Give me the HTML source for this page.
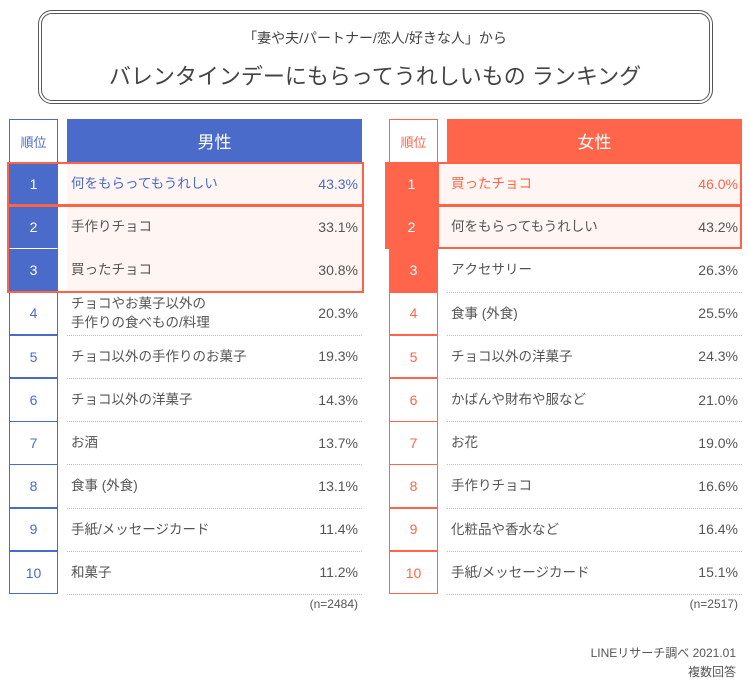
<!DOCTYPE html>
<html><head><meta charset="utf-8">
<style>
body{margin:0;width:750px;height:683px;background:#fff;position:relative;overflow:hidden;font-family:"Liberation Sans","Noto Sans CJK JP",sans-serif;color:#555;}
.a{position:absolute;box-sizing:border-box;}
#title-box{left:38px;top:10px;width:675px;height:94px;border:4px double #555;border-radius:14px;}
.t1{left:0;width:750px;top:28px;text-align:center;font-size:14px;color:#444;}
.t2{left:0;width:750px;top:59px;text-align:center;font-size:22px;color:#444;}
.rk{display:flex;align-items:center;justify-content:center;font-size:14px;}
.lab{font-size:13.5px;display:flex;align-items:center;line-height:19px;}
.val{font-size:14px;text-align:right;display:flex;align-items:center;justify-content:flex-end;}
.sep{height:0;border-top:1px dotted #bbb;}
</style></head><body>
<div class="a" id="title-box"></div>
<div class="a t1">「妻や夫/パートナー/恋人/好きな人」から</div>
<div class="a t2">バレンタインデーにもらってうれしいもの ランキング</div>
<div class="a" style="right:14px;top:644px;font-size:12px;text-align:right;line-height:19px;">LINEリサーチ調べ 2021.01<br>複数回答</div>
<script>
const maleItems=["何をもらってもうれしい","手作りチョコ","買ったチョコ","チョコやお菓子以外の<br>手作りの食べもの/料理","チョコ以外の手作りのお菓子","チョコ以外の洋菓子","お酒","食事 (外食)","手紙/メッセージカード","和菓子"];
const maleValues=[43.3,33.1,30.8,20.3,19.3,14.3,13.7,13.1,11.4,11.2];
const femaleItems=["買ったチョコ","何をもらってもうれしい","アクセサリー","食事 (外食)","チョコ以外の洋菓子","かばんや財布や服など","お花","手作りチョコ","化粧品や香水など","手紙/メッセージカード"];
const femaleValues=[46.0,43.2,26.3,25.5,24.3,21.0,19.0,16.6,16.4,15.1];
const sampleN=[2484,2517];
const TOP=162,RH=43.2;
function el(cls,css,html){const d=document.createElement('div');d.className='a '+cls;d.style.cssText=css;if(html!==undefined)d.innerHTML=html;document.body.appendChild(d);return d;}
function build(x0,color,items,vals,n,title,female){
  const rx=x0,rw=49,mx=x0+58,mw=295;
  let h=el('rk',`left:${rx}px;top:119px;width:${rw}px;height:43px;border:1px solid ${color};border-bottom:none;color:${color};font-size:13px`,'順位');
  
  h=el('rk',`left:${mx}px;top:119px;width:${mw}px;height:43px;background:${color};color:#fff;font-size:17px`,title);
  
  for(let i=0;i<items.length;i++){
    const y=TOP+i*RH;const top3=i<3;
    const ext=(female&&i<2)?4:0;
    let r=el('rk',`left:${rx-ext}px;top:${y}px;width:${rw+ext}px;height:${RH+0.5}px;border:1px solid ${color};${top3?'background:'+color+';color:#fff;':'color:'+color+';'}${(!female&&top3&&i>0)?'border-top:1px solid #fff;':''}`,String(i+1));
    
    const hl=female?i<2:i<3;
    if(hl){const b=el('',`left:${female?mx-10:mx}px;top:${y}px;width:${female?mw+10:mw}px;height:${RH}px;background:#fff5f3`);}
    let l=el('lab',`left:${mx+4}px;top:${y}px;width:230px;height:${RH}px;${i===0?'color:'+color+';':''}`,items[i]);
    
    let v=el('val',`left:${mx}px;top:${y}px;width:${mw-4}px;height:${RH}px;${i===0?'color:'+color+';':''}`,vals[i].toFixed(1)+'%');
    
    if(!(hl)){const s=el('sep',`left:${mx}px;top:${y+RH}px;width:${mw}px`);}
    else if(!female&&i===1){const s=el('sep',`left:${mx}px;top:${y+RH}px;width:${mw}px`);}
  }
  const RED='#ff6347';
  const boxes=female?[[0,1],[1,1]]:[[0,1],[1,2]];
  boxes.forEach(b=>{
    const bx=female?mx-10:rx-2,bw=female?mw+10:mw+rw+13;
    const o=el('',`left:${bx}px;top:${TOP+b[0]*RH}px;width:${bw}px;height:${b[1]*RH+1}px;border:2px solid ${RED}`);
    
  });
  const nn=el('',`left:${mx}px;top:597px;width:${mw-4}px;text-align:right;font-size:12px`,'(n='+n+')');
  
}
build(9,'#4a6bc9',maleItems,maleValues,sampleN[0],'男性',false);
build(389,'#ff654a',femaleItems,femaleValues,sampleN[1],'女性',true);
</script>
</body></html>
